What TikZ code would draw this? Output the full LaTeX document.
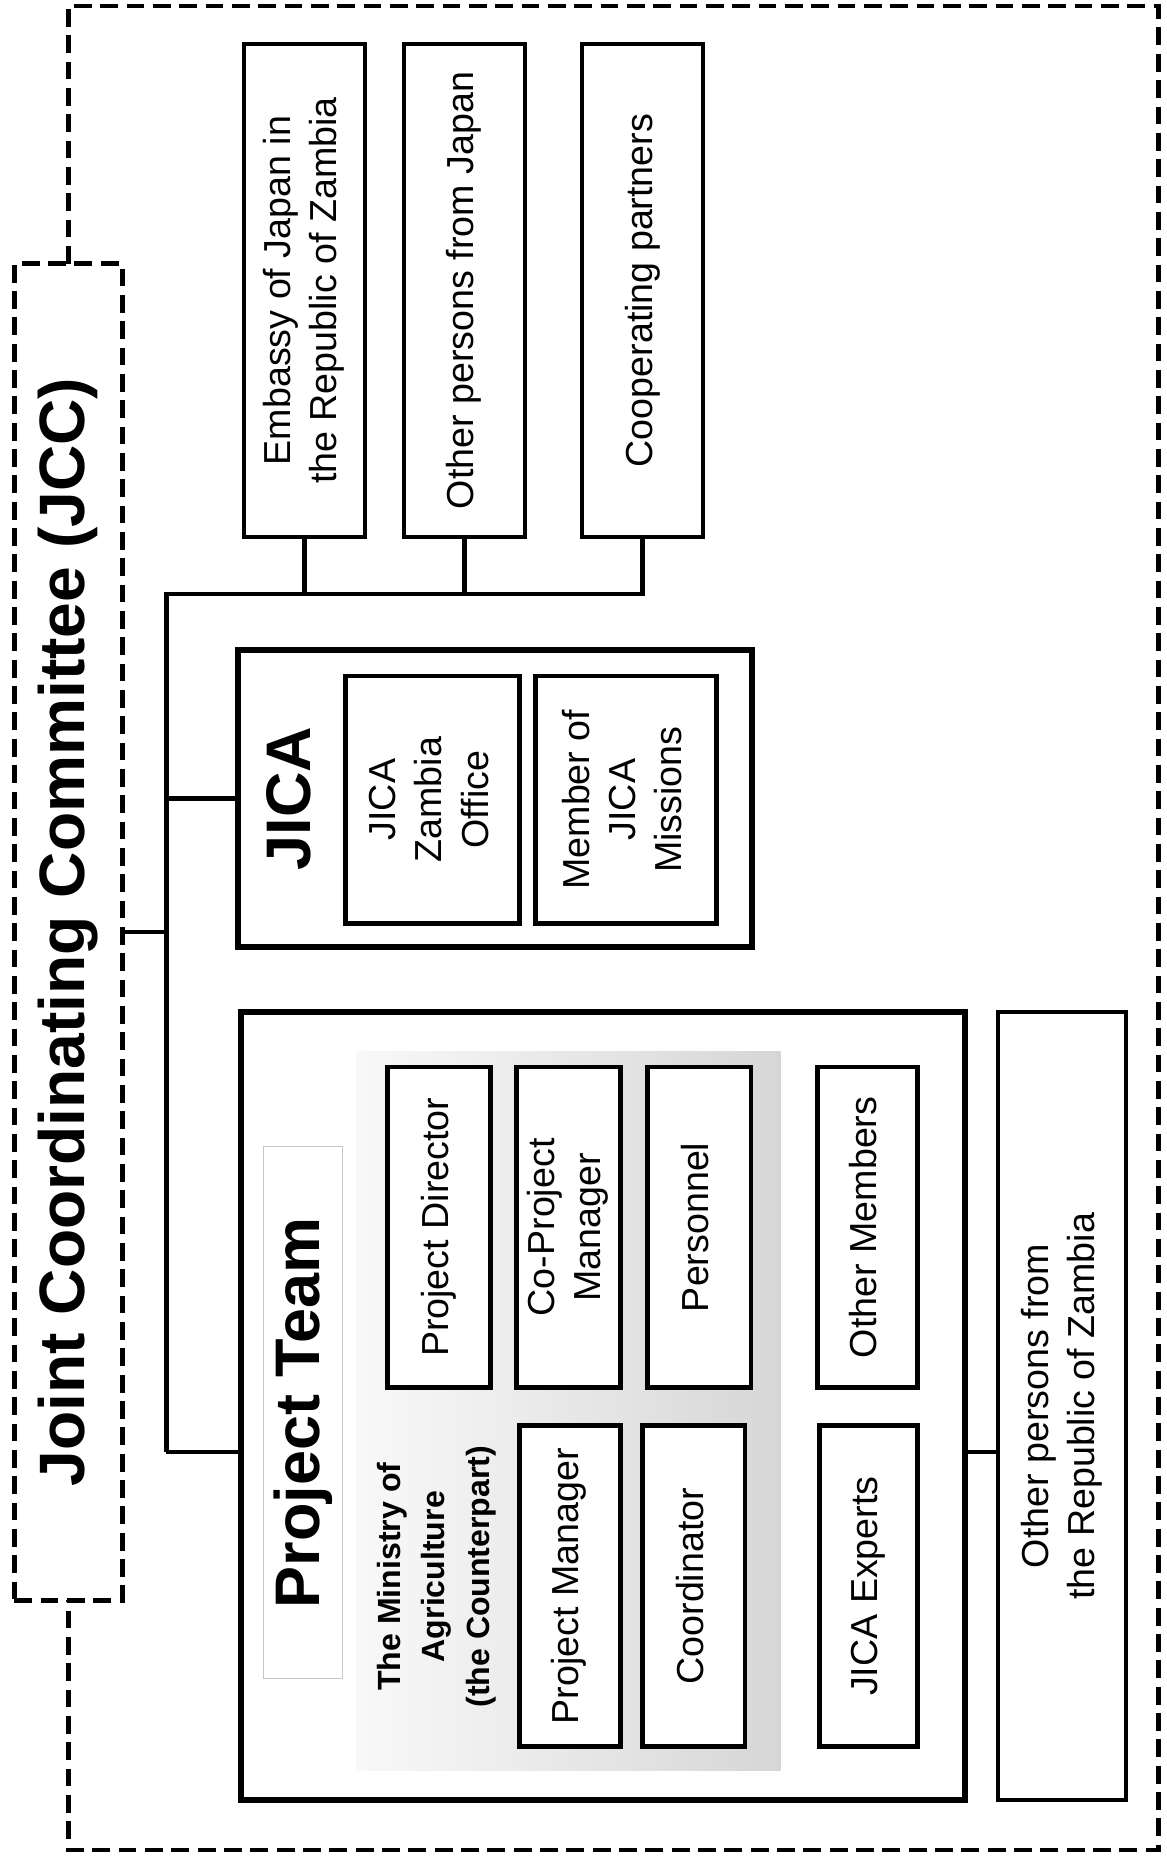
\documentclass[tikz,border=0pt]{standalone}
\usepackage{fontspec}
\setmainfont{Liberation Sans}
\usepackage{graphicx}
\newcommand{\rtxt}[1]{\rotatebox{90}{\begin{tabular}{@{}c@{}}#1\end{tabular}}}
\begin{document}
\begin{tikzpicture}[x=0.6pt,y=-0.6pt,
  every node/.style={inner sep=0pt, outer sep=0pt, align=center},
  plainbox/.style={draw, line width=2pt, fill=white},
  innerbox/.style={draw, line width=2.4pt, fill=white},
  bigbox/.style={draw, line width=3pt},
  conn/.style={line width=2.4pt},
  dashline/.style={line width=2.3pt, dash pattern=on 9pt off 4.3pt},
  reg/.style={font=\fontsize{19}{23.4}\selectfont},
  big/.style={font=\fontsize{31.8}{36}\selectfont\bfseries},
  title/.style={font=\fontsize{32.4}{36}\selectfont\bfseries},
  mini/.style={font=\fontsize{16.2}{22.4}\selectfont\bfseries},
]
\useasboundingbox (0,0) rectangle (982,1568);

% JCC
\node[dashline, draw, minimum width=54.6pt, minimum height=675pt, title] (jcc) at (57.5,784.5)
  {\rotatebox{90}{Joint Coordinating Committee (JCC)}};
\coordinate (otl) at (57.5,5);
\coordinate (otr) at (975,5);
\coordinate (obr) at (975,1557);
\coordinate (obl) at (57.5,1557);
\draw[dashline] (jcc.north) -- (otl) -- (otr) -- (obr) -- (obl) -- (jcc.south);

% top boxes
\node[plainbox, minimum width=61.2pt, minimum height=249pt, reg] (emb) at (256,244.5)
  {\rtxt{Embassy of Japan in\\the Republic of Zambia}};
\node[plainbox, minimum width=61.2pt, minimum height=249pt, reg] (ojp) at (391,244.5)
  {\rtxt{Other persons from Japan}};
\node[plainbox, minimum width=61.2pt, minimum height=249pt, reg] (coop) at (541,244.5)
  {\rtxt{Cooperating partners}};

% JICA
\node[bigbox, minimum width=259.8pt, minimum height=150pt] (jica) at (416.5,672) {};
\node[big] (jicat) at (243,672) {\rotatebox{90}{JICA}};
\node[innerbox, minimum width=87.6pt, minimum height=124.8pt, reg] (jzo) at (364,673)
  {\rtxt{JICA\\Zambia\\Office}};
\node[innerbox, minimum width=91.2pt, minimum height=124.8pt, reg] (jmm) at (527,673)
  {\rtxt{Member of\\JICA\\Missions}};

% Project team
\node[bigbox, minimum width=365.4pt, minimum height=397.8pt] (pt) at (507.5,1183.5) {};
\node[draw=gray!45, line width=0.6pt, fill=white, minimum width=39.6pt, minimum height=268.8pt, big] (ptl) at (255,1189)
  {\rotatebox{90}{Project Team}};
\node[minimum width=214.2pt, minimum height=363pt, left color=gray!5, right color=gray!32] (gray) at (478.5,1187.5) {};
\node[mini] (mini) at (367,1327) {\rtxt{The Ministry of\\Agriculture\\(the Counterpart)}};
\node[innerbox, minimum width=52.2pt, minimum height=162pt, reg] (pd) at (369.5,1033) {\rtxt{Project Director}};
\node[innerbox, minimum width=52.2pt, minimum height=162pt, reg] (cpm) at (478.5,1033) {\rtxt{Co-Project\\Manager}};
\node[innerbox, minimum width=52.2pt, minimum height=162pt, reg] (pers) at (588.5,1033) {\rtxt{Personnel}};
\node[innerbox, minimum width=51pt, minimum height=162pt, reg] (pm) at (479.5,1335) {\rtxt{Project Manager}};
\node[innerbox, minimum width=51.6pt, minimum height=162pt, reg] (coord) at (584,1335) {\rtxt{Coordinator}};
\node[innerbox, minimum width=50.4pt, minimum height=162pt, reg] (om) at (730,1033) {\rtxt{Other Members}};
\node[innerbox, minimum width=49.2pt, minimum height=162pt, reg] (jex) at (731,1335) {\rtxt{JICA Experts}};

% Other persons from Zambia
\node[plainbox, minimum width=64.8pt, minimum height=397.8pt, reg] (oz) at (894,1183.5)
  {\rtxt{Other persons from\\the Republic of Zambia}};

% connectors
\coordinate (busT) at (140,500);
\coordinate (busB) at (140,1222);
\draw[conn] (busB) -- (busT) -| (coop.south);
\draw[conn] (emb.south) -- (emb.south |- busT);
\draw[conn] (ojp.south) -- (ojp.south |- busT);
\draw[conn] (jcc.east) -- (jcc.east -| busT);
\draw[conn] (jica.west) -- (jica.west -| busT);
\draw[conn] (busB) -- (busB -| pt.west);
\draw[conn] (pt.east |- busB) -- (oz.west |- busB);
\end{tikzpicture}
\end{document}
